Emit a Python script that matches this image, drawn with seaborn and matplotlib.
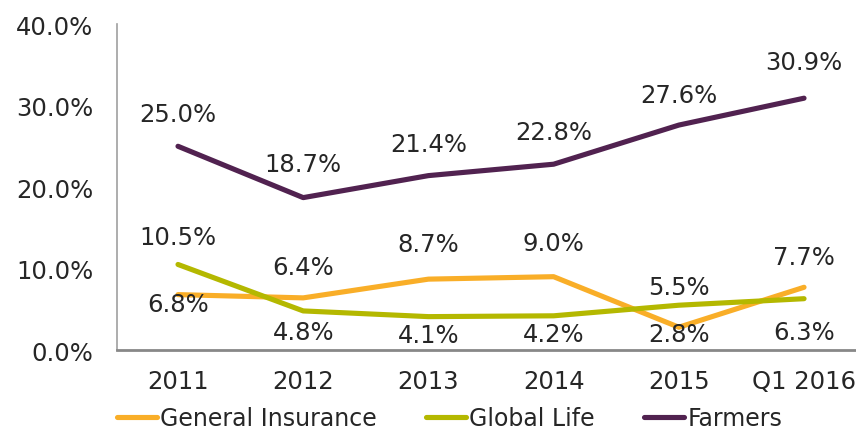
import numpy as np
import pandas as pd
import matplotlib
matplotlib.use("Agg")
import matplotlib.pyplot as plt
import seaborn as sns

periods = ["2011", "2012", "2013", "2014", "2015", "Q1 2016"]
general_insurance = [6.8, 6.4, 8.7, 9.0, 2.8, 7.7]
global_life = [10.5, 4.8, 4.1, 4.2, 5.5, 6.3]
farmers = [25.0, 18.7, 21.4, 22.8, 27.6, 30.9]
series_names = ["General Insurance", "Global Life", "Farmers"]
y_ticks = [0, 10, 20, 30, 40]

colors = {"General Insurance": "#F9AE28", "Global Life": "#B4B800", "Farmers": "#512250"}
# vertical label offsets in points (positive = above the point)
label_offsets = {
    "General Insurance": [-7, 22, 25, 24, -5, 22],
    "Global Life": [20, -15, -13, -13, 13, -24],
    "Farmers": [23, 24, 23, 23, 22, 26],
}

sns.set_style("white")
plt.rcParams["font.family"] = ["DejaVu Sans"]
text_color = "#262626"
fs = 17.5

df = pd.DataFrame({
    "x": list(range(len(periods))) * 3,
    "value": general_insurance + global_life + farmers,
    "series": np.repeat(series_names, len(periods)),
})

fig = plt.figure(figsize=(8.56, 4.35), dpi=100)
ax = fig.add_axes([0.1367, 0.193, 0.8633, 0.7495])

sns.lineplot(data=df, x="x", y="value", hue="series", hue_order=series_names,
             palette=colors, linewidth=3.7, ax=ax, legend=False)
for line in ax.lines:
    line.set_solid_capstyle("round")

for name, vals in zip(series_names, [general_insurance, global_life, farmers]):
    for i, v in enumerate(vals):
        ax.annotate(f"{v:.1f}%", (i, v), xytext=(0, label_offsets[name][i]),
                    textcoords="offset points", ha="center", va="center",
                    fontsize=fs, color=text_color)

ax.set_xlim(-0.487, 5.415)
ax.set_ylim(0, 40)
ax.set_xticks(range(len(periods)))
ax.set_xticklabels(periods)
ax.set_yticks(y_ticks)
ax.set_yticklabels([f"{t:.1f}%" for t in y_ticks])
ax.tick_params(axis="both", length=0, labelsize=fs, colors=text_color)
ax.tick_params(axis="y", pad=17)
ax.tick_params(axis="x", pad=14)
ax.set_xlabel("")
ax.set_ylabel("")

for s in ["top", "right"]:
    ax.spines[s].set_visible(False)
ax.spines["left"].set_color("#A0A0A0")
ax.spines["left"].set_linewidth(1.2)
ax.spines["bottom"].set_color("#888888")
ax.spines["bottom"].set_linewidth(2)

handles = [plt.Line2D([0], [0], color=colors[n], lw=3.7, solid_capstyle="round") for n in series_names]
fig.legend(handles, series_names, loc="center", bbox_to_anchor=(0.525, 0.036), ncol=3,
           frameon=False, fontsize=17, handlelength=1.7, handletextpad=0.12,
           columnspacing=2.1, labelcolor=text_color, borderpad=0.1)

fig.savefig("out.png", dpi=100)
